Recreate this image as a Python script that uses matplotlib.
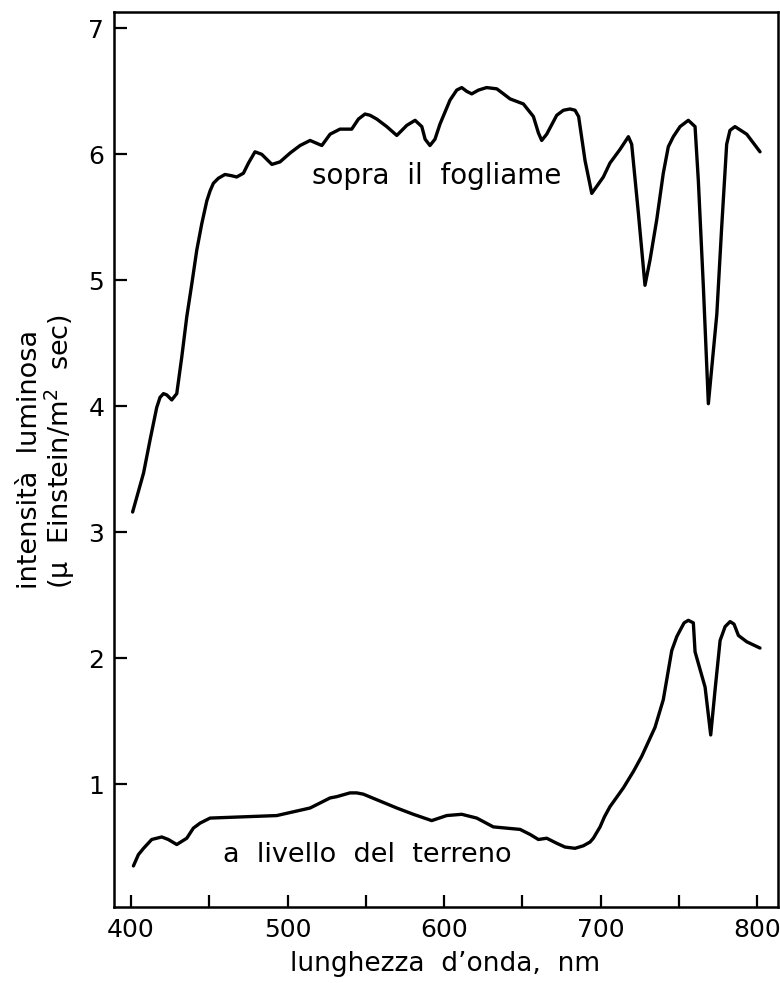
"""
Intensità luminosa sopra il fogliame e a livello del terreno
"""

import matplotlib
matplotlib.use('Agg')
import matplotlib.pyplot as plt

plt.rcParams['font.family'] = ['DejaVu Sans']

# curva superiore: sopra il fogliame
wl_top = [401, 408, 412.1, 416.4, 418.5, 420.7, 422.8, 426, 429.2, 432.4, 435.6,
          438.8, 442, 445.2, 448.4, 450.5, 452.6, 455.8, 460, 464.3, 467.5, 471.8,
          475, 479.2, 483.5, 490, 495.2, 501.6, 508, 514.4, 521.9, 527.2, 533.5,
          541, 545.3, 549.5, 552.7, 557, 563.4, 569.8, 576.2, 581.5, 585.8, 587.9,
          591, 594.2, 597.4, 603.8, 608.1, 611.3, 614.5, 617.7, 622, 627.2, 633.7,
          638, 642.2, 650.7, 657.1, 660.3, 662.4, 665.6, 672, 676.3, 680.5, 683.7,
          686, 690.1, 694.4, 701.8, 706, 712.5, 717.8, 719.9, 724.2, 728.4, 731.6,
          735.9, 740.1, 743.3, 746.5, 750.8, 756.1, 760.4, 762.5, 765.7, 768.9,
          774.3, 777.4, 780.6, 782.7, 785.9, 793.4, 801.9]
int_top = [3.16, 3.47, 3.73, 3.99, 4.07, 4.10, 4.09, 4.05, 4.10, 4.39, 4.71,
           4.97, 5.24, 5.45, 5.63, 5.71, 5.77, 5.81, 5.84, 5.83, 5.82, 5.85,
           5.93, 6.02, 6.00, 5.92, 5.94, 6.01, 6.07, 6.11, 6.07, 6.16, 6.20,
           6.20, 6.28, 6.32, 6.31, 6.28, 6.22, 6.15, 6.23, 6.27, 6.22, 6.12,
           6.07, 6.12, 6.24, 6.43, 6.51, 6.53, 6.50, 6.48, 6.51, 6.53, 6.52,
           6.48, 6.44, 6.40, 6.30, 6.17, 6.11, 6.16, 6.31, 6.35, 6.36, 6.35,
           6.30, 5.95, 5.69, 5.82, 5.93, 6.04, 6.14, 6.08, 5.53, 4.96, 5.16,
           5.48, 5.85, 6.06, 6.14, 6.22, 6.27, 6.22, 5.79, 4.95, 4.02,
           4.73, 5.42, 6.08, 6.19, 6.22, 6.16, 6.02]

# curva inferiore: a livello del terreno
wl_bot = [401.5, 404.7, 408, 413.2, 419.6, 423.8, 429.2, 435.6, 439.8, 444.1,
          447.3, 450.5, 471.8, 493.1, 514.4, 527.2, 531.4, 539.9, 544.2, 548.4,
          569.8, 580.4, 592.1, 601.7, 611.3, 620.9, 631.5, 640.1, 648.6, 655,
          660.3, 665.6, 672, 677.3, 683.7, 689, 693.3, 695.4, 699.7, 702.5, 706,
          714.6, 721, 726.3, 734.8, 740.1, 745.5, 748.7, 750.8, 753.4, 756.1,
          759.3, 760.4, 766.8, 770.4, 773.2, 776.4, 779.6, 782.8, 785.3, 788.1,
          793.4, 801.9]
int_bot = [0.35, 0.44, 0.49, 0.56, 0.58, 0.56, 0.52, 0.57, 0.65, 0.69,
           0.71, 0.73, 0.74, 0.75, 0.81, 0.89, 0.90, 0.93, 0.93, 0.92,
           0.81, 0.76, 0.71, 0.75, 0.76, 0.73, 0.66, 0.65, 0.64, 0.60,
           0.56, 0.57, 0.53, 0.50, 0.49, 0.51, 0.54, 0.57, 0.66, 0.74, 0.82,
           0.97, 1.10, 1.22, 1.45, 1.67, 2.06, 2.17, 2.22, 2.28, 2.30,
           2.28, 2.05, 1.77, 1.39, 1.75, 2.14, 2.25, 2.29, 2.27, 2.18,
           2.13, 2.08]

x_ticks = [400, 500, 600, 700, 800]
x_minor = [450, 550, 650, 750]
y_ticks = [1, 2, 3, 4, 5, 6, 7]

fig = plt.figure(figsize=(7.8, 9.83), dpi=100)
ax = fig.add_axes([114/780, 1 - 907/983, 664/780, 895/983])

ax.plot(wl_top, int_top, color='black', linewidth=2.4,
        solid_joinstyle='round', solid_capstyle='round')
ax.plot(wl_bot, int_bot, color='black', linewidth=2.4,
        solid_joinstyle='round', solid_capstyle='round')

ax.set_xlim(389.1, 813.4)
ax.set_ylim(0.024, 7.13)

ax.set_xticks(x_ticks)
ax.set_xticks(x_minor, minor=True)
ax.set_yticks(y_ticks)
ax.tick_params(axis='both', which='both', direction='in', length=9, width=1.6,
               labelsize=18)
ax.tick_params(axis='x', pad=8)
ax.tick_params(axis='y', pad=7)

for sp in ax.spines.values():
    sp.set_linewidth(1.8)

ax.text(515.7, 5.83, 'sopra  il  fogliame', fontsize=20, va='center', ha='left')
ax.text(458.8, 0.44, 'a  livello  del  terreno', fontsize=19.5, va='center', ha='left')

# etichette degli assi
fig.text(445/780, 1 - 964/983, 'lunghezza  d’onda,  nm', fontsize=19,
         ha='center', va='center')
fig.text(47/780, 1 - 452/983, 'intensità  luminosa\n(µ  Einstein/m$^2$  sec)',
         fontsize=19.5, rotation=90, ha='center', va='center',
         multialignment='left', linespacing=0.95)

plt.savefig('out.png', dpi=100)
